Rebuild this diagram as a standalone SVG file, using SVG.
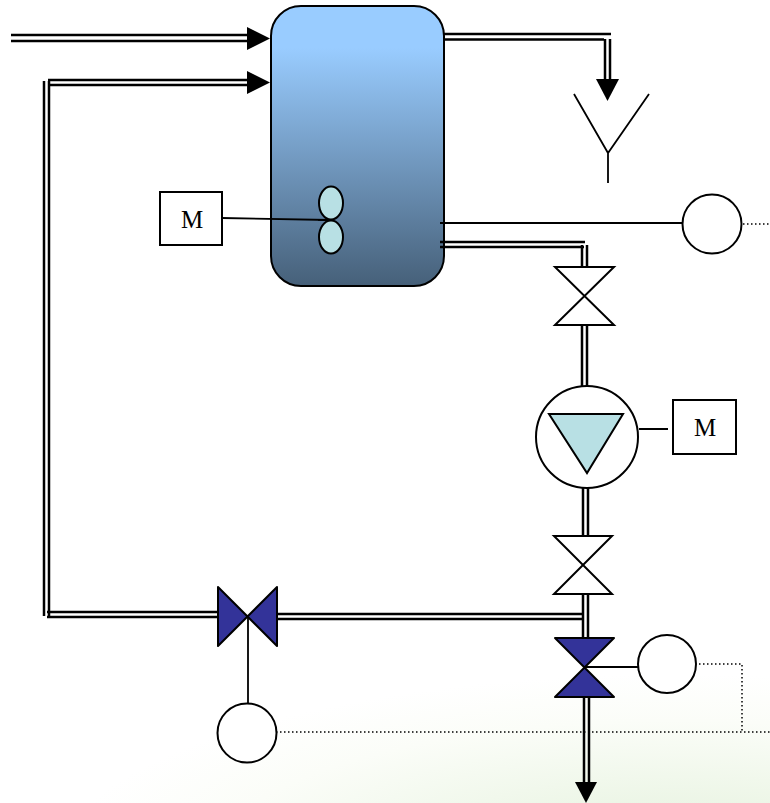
<svg xmlns="http://www.w3.org/2000/svg" width="770" height="803" viewBox="0 0 770 803">
<defs>
<linearGradient id="vessel" x1="0" y1="0" x2="0" y2="1"><stop offset="0" stop-color="#99ccff"/><stop offset="0.15" stop-color="#99ccff"/><stop offset="1" stop-color="#466079"/></linearGradient>
<radialGradient id="bg" gradientUnits="userSpaceOnUse" cx="680" cy="860" r="620" gradientTransform="translate(0 602) scale(1 0.3)"><stop offset="0" stop-color="#e2f0da"/><stop offset="0.45" stop-color="#f1f8ec"/><stop offset="0.75" stop-color="#fbfdf8"/><stop offset="1" stop-color="#ffffff"/></radialGradient>
</defs>
<style>
.p{fill:none;stroke:#000;stroke-width:2.500}
.t{fill:none;stroke:#000;stroke-width:1.800}
.d{fill:none;stroke:#000;stroke-width:1.500;stroke-dasharray:1.500 2.500}
.s{fill:#fff;stroke:#000;stroke-width:2}
.v{fill:#333399;stroke:#000;stroke-width:2;stroke-linejoin:round}
.c{fill:#b8e0e4;stroke:#000;stroke-width:2}
text{font-family:"Liberation Serif","Times New Roman",serif;font-size:25px;text-anchor:middle;fill:#000}
</style>
<rect id="background" width="770" height="803" fill="#fff"/>
<rect width="770" height="803" fill="url(#bg)"/>
<g id="vessel-node"><rect x="271" y="6" width="173" height="280" rx="30" fill="url(#vessel)" stroke="#000" stroke-width="2"/></g>
<g id="connectors">
<path class="p" d="M11 35H250M11 41H250"/>
<path d="M247 27L270 38.500L247 50Z"/>
<path class="p" d="M48 80H250M48 85H250M44 81V616M49 81V616M47 612H218M47 617H218"/>
<path d="M247 71L270 82.500L247 94Z"/>
<path class="p" d="M444 34H611M444 39.500H604M605 39V82M610 39V82"/>
<path d="M596 79H619L607.500 101Z"/>
<path class="t" d="M222 218L330 220"/>
<path class="t" d="M440 223H682"/>
<path class="d" d="M743 224H770"/>
<path class="p" d="M440 242H585M440 247H584M582 245V267M587 245V267M582 325V386M587 325V386M583 486V536M588 486V536M583 594V638M588 594V638M277 614H584M277 619H584M584 697V782M589 697V782"/>
<path d="M575 782H597L586 803Z"/>
<path class="t" d="M639 429H668M585 667H638M248 616V704"/>
<path class="d" d="M699 664H742V732M276 732H770"/>
</g>
<g id="mixer"><ellipse class="c" cx="331" cy="203" rx="12" ry="16.500"/><ellipse class="c" cx="331" cy="237" rx="12" ry="16.500"/><path class="t" d="M318 219.800L331 220"/></g>
<g id="motor-1"><rect class="s" x="160" y="192" width="62" height="53"/><text x="192" y="228">M</text></g>
<g id="funnel"><path class="t" d="M574 94L608 153L649 94M608 153V183"/></g>
<g id="sensor-1"><circle class="s" cx="712" cy="224" r="29.500"/></g>
<g id="valve-1"><path class="s" d="M555 267H614L555 325H614Z"/></g>
<g id="pump"><circle class="s" cx="587" cy="437" r="51"/><path class="c" d="M549 414H623L587 473Z"/></g>
<g id="motor-2"><rect class="s" x="673" y="400" width="63" height="54"/><text x="705" y="436">M</text></g>
<g id="valve-2"><path class="s" d="M554 536H612L554 594H612Z"/></g>
<g id="valve-3"><path class="v" d="M555 638H614L555 697H614Z"/></g>
<g id="sensor-2"><circle class="s" cx="667" cy="664" r="29"/></g>
<g id="valve-4"><path class="v" d="M218 587L277 646V587L218 646Z"/></g>
<g id="sensor-3"><circle class="s" cx="247" cy="733" r="29.500"/></g>
</svg>
